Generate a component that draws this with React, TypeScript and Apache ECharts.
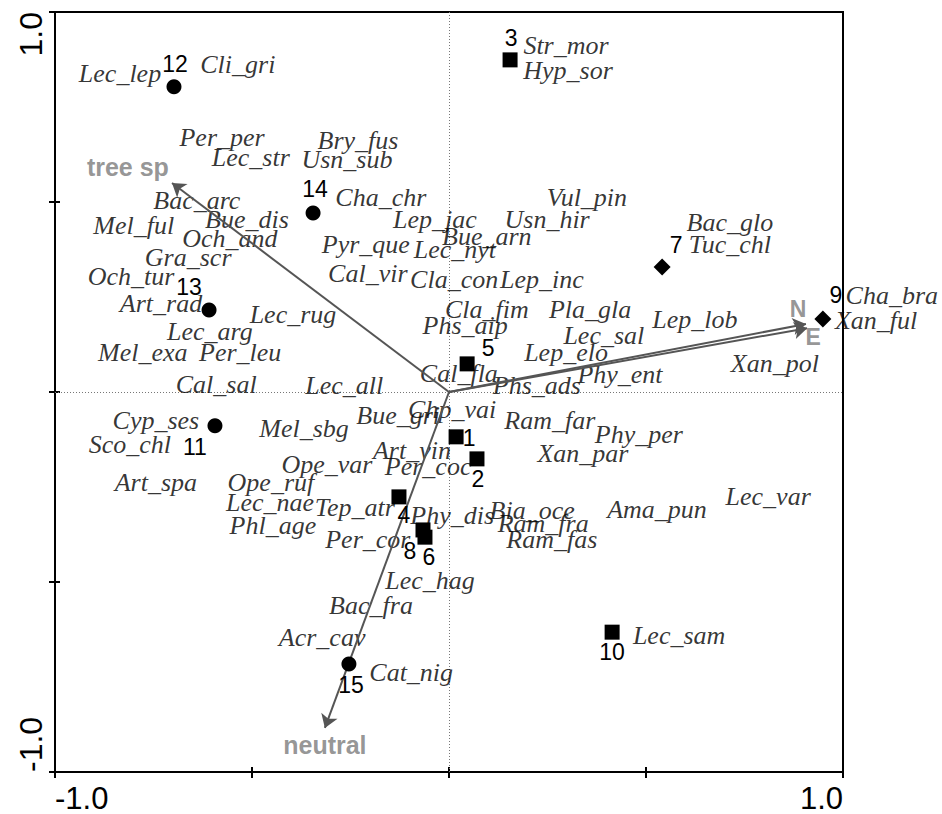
import React, { useEffect, useRef } from "react";
import * as echarts from "echarts";

// ---- axis ----
const axisMin = -1;
const axisMax = 1;
const axisInterval = 0.5;
const axisEndLabels: Record<string, string> = { "-1": "-1.0", "1": "1.0" };

// ---- species scores (text only) ----
const speciesNames = [
  "Lec_lep", "Cli_gri", "Per_per", "Lec_str", "Bry_fus", "Usn_sub", "Str_mor", "Hyp_sor",
  "Cha_chr", "Vul_pin", "Bac_glo", "Tuc_chl", "Bac_arc", "Mel_ful", "Bue_dis", "Och_and",
  "Gra_scr", "Och_tur", "Lep_jac", "Usn_hir", "Bue_arn", "Pyr_que", "Lec_nyt", "Cal_vir",
  "Cla_con", "Lep_inc", "Cla_fim", "Pla_gla", "Phs_aip", "Lep_lob", "Lec_sal", "Lep_elo",
  "Xan_pol", "Phy_ent", "Cal_fla", "Phs_ads", "Lec_all", "Lec_rug", "Art_rad", "Lec_arg",
  "Mel_exa", "Per_leu", "Cal_sal", "Cha_bra", "Xan_ful", "Cyp_ses", "Sco_chl", "Mel_sbg",
  "Bue_gri", "Chp_vai", "Ram_far", "Phy_per", "Art_vin", "Xan_par", "Ope_var", "Per_coc",
  "Art_spa", "Ope_ruf", "Lec_var", "Ama_pun", "Lec_nae", "Tep_atr", "Phy_dis", "Bia_oce",
  "Ram_fra", "Phl_age", "Per_cor", "Ram_fas", "Lec_hag", "Bac_fra", "Acr_cav", "Cat_nig",
  "Lec_sam",
];
const speciesX = [
  -0.835, -0.536, -0.576, -0.503, -0.231, -0.259, 0.297, 0.302,
  -0.173, 0.35, 0.713, 0.713, -0.64, -0.8, -0.513, -0.556,
  -0.662, -0.807, -0.036, 0.249, 0.096, -0.211, 0.015, -0.206,
  0.013, 0.236, 0.096, 0.358, 0.041, 0.624, 0.393, 0.297,
  0.827, 0.434, 0.025, 0.223, -0.266, -0.396, -0.731, -0.607,
  -0.777, -0.53, -0.591, 1.124, 1.084, -0.744, -0.81, -0.368,
  -0.129, 0.008, 0.256, 0.482, -0.094, 0.34, -0.31, -0.053,
  -0.744, -0.452, 0.81, 0.528, -0.454, -0.239, 0.008, 0.211,
  0.239, -0.447, -0.206, 0.261, -0.048, -0.198, -0.322, -0.096,
  0.584,
];
const speciesY = [
  0.838, 0.862, 0.671, 0.618, 0.663, 0.611, 0.913, 0.845,
  0.511, 0.511, 0.447, 0.389, 0.505, 0.439, 0.453, 0.405,
  0.353, 0.303, 0.453, 0.453, 0.408, 0.387, 0.374, 0.313,
  0.295, 0.297, 0.218, 0.216, 0.176, 0.192, 0.15, 0.105,
  0.076, 0.045, 0.05, 0.016, 0.018, 0.203, 0.232, 0.158,
  0.105, 0.105, 0.021, 0.255, 0.187, -0.076, -0.139, -0.095,
  -0.063, -0.045, -0.074, -0.113, -0.155, -0.163, -0.192, -0.197,
  -0.237, -0.237, -0.276, -0.308, -0.292, -0.305, -0.324, -0.313,
  -0.347, -0.35, -0.387, -0.387, -0.495, -0.561, -0.645, -0.739,
  -0.642,
];

// ---- sites (samples) ----
const squareSiteIds = ["1", "2", "3", "4", "5", "6", "8", "10"];
const squareSiteX = [0.018, 0.071, 0.155, -0.127, 0.046, -0.061, -0.066, 0.414];
const squareSiteY = [-0.118, -0.176, 0.874, -0.276, 0.074, -0.382, -0.363, -0.632];

const circleSiteIds = ["11", "12", "13", "14", "15"];
const circleSiteX = [-0.594, -0.698, -0.609, -0.345, -0.254];
const circleSiteY = [-0.089, 0.803, 0.216, 0.471, -0.716];

const diamondSiteIds = ["7", "9"];
const diamondSiteX = [0.541, 0.949];
const diamondSiteY = [0.329, 0.192];

// ---- environmental vectors ----
const envNames = ["tree sp", "neutral", "N", "E"];
const envX = [-0.703, -0.315, 0.906, 0.909];
const envY = [0.55, -0.884, 0.179, 0.168];
const envLabelX = [-0.815, -0.315, 0.886, 0.924];
const envLabelY = [0.592, -0.929, 0.218, 0.145];

// layout: pixel offsets of site number labels from their symbols
const siteLabelOffset: Record<string, [number, number]> = {
  "1": [13, 1], "2": [1, 20], "3": [1, -22], "4": [5, 18], "5": [21, -16],
  "6": [4, 20], "8": [-13, 21], "10": [0, 20], "11": [-20, 21], "12": [1, -23],
  "13": [-20, -23], "14": [2, -24], "15": [2, 21], "7": [14, -22], "9": [13, -24],
};

const SERIF = "'Liberation Serif', 'Times New Roman', Times, serif";
const SANS = "'Liberation Sans', Arial, Helvetica, sans-serif";

function siteSeries(ids: string[], xs: number[], ys: number[], symbol: string, size: number) {
  return {
    type: "scatter",
    z: 5,
    clip: false,
    symbol,
    symbolSize: size,
    itemStyle: { color: "#000", opacity: 1 },
    emphasis: { disabled: true },
    label: {
      show: true,
      position: "inside",
      formatter: (p: any) => p.name,
      fontFamily: SANS,
      fontSize: 23,
      color: "#000",
    },
    data: ids.map((id, i) => ({
      name: id,
      value: [xs[i], ys[i]],
      label: { offset: siteLabelOffset[id] },
    })),
  };
}

export default function App() {
  const ref = useRef<HTMLDivElement>(null);
  useEffect(() => {
    if (!ref.current) return;
    const chart = echarts.init(ref.current, null, { renderer: "svg" });
    const baseAxis = {
      type: "value",
      min: axisMin,
      max: axisMax,
      interval: axisInterval,
      splitLine: { show: false },
    };
    const option: any = {
      animation: false,
      backgroundColor: "#fff",
      grid: {
        left: 55,
        right: 99,
        top: 12,
        bottom: 42,
        show: true,
        borderColor: "#000",
        borderWidth: 2,
      },
      xAxis: [
        {
          ...baseAxis,
          position: "bottom",
          axisLine: { show: true, onZero: false, lineStyle: { color: "#000", width: 2 } },
          axisTick: { show: true, length: 6, lineStyle: { color: "#000", width: 2 } },
          axisLabel: {
            show: true,
            margin: 11,
            fontFamily: SANS,
            fontSize: 31,
            color: "#000",
            showMinLabel: true,
            showMaxLabel: true,
            alignMinLabel: "left",
            alignMaxLabel: "right",
            formatter: (v: number) => axisEndLabels[String(v)] ?? "",
          },
        },
        {
          ...baseAxis,
          position: "bottom",
          axisLine: { show: false, onZero: false },
          axisTick: { show: true, inside: true, length: 5, lineStyle: { color: "#000", width: 2 } },
          axisLabel: { show: false },
        },
      ],
      yAxis: [
        {
          ...baseAxis,
          position: "left",
          axisLine: { show: true, onZero: false, lineStyle: { color: "#000", width: 2 } },
          axisTick: { show: true, length: 6, lineStyle: { color: "#000", width: 2 } },
          axisLabel: {
            show: true,
            rotate: 90,
            margin: 8,
            fontFamily: SANS,
            fontSize: 32,
            color: "#000",
            showMinLabel: true,
            showMaxLabel: true,
            alignMinLabel: "left",
            alignMaxLabel: "right",
            formatter: (v: number) => axisEndLabels[String(v)] ?? "",
          },
        },
        {
          ...baseAxis,
          position: "left",
          axisLine: { show: false, onZero: false },
          axisTick: { show: true, inside: true, length: 5, lineStyle: { color: "#000", width: 2 } },
          axisLabel: { show: false },
        },
      ],
      series: [
        {
          type: "scatter",
          z: 3,
          clip: false,
          symbolSize: 1,
          itemStyle: { color: "rgba(0,0,0,0)" },
          emphasis: { disabled: true },
          label: {
            show: true,
            position: "inside",
            formatter: (p: any) => p.name,
            fontFamily: SERIF,
            fontStyle: "italic",
            fontSize: 26,
            color: "#000",
          },
          data: speciesNames.map((n, i) => ({ name: n, value: [speciesX[i], speciesY[i]] })),
          markLine: {
            silent: true,
            symbol: ["none", "none"],
            label: { show: false },
            lineStyle: { type: [1, 2], color: "#777", width: 1 },
            emphasis: { disabled: true },
            data: [{ xAxis: 0 }, { yAxis: 0 }],
            z: 1,
          },
        },
        {
          type: "lines",
          coordinateSystem: "cartesian2d",
          z: 4,
          symbol: ["none", "arrow"],
          symbolSize: 13,
          lineStyle: { color: "#555", width: 2, opacity: 1 },
          emphasis: { disabled: true },
          data: envNames.map((n, i) => ({
            name: n,
            coords: [
              [0, 0],
              [envX[i], envY[i]],
            ],
          })),
        },
        siteSeries(squareSiteIds, squareSiteX, squareSiteY, "rect", 15),
        siteSeries(circleSiteIds, circleSiteX, circleSiteY, "circle", 15),
        siteSeries(diamondSiteIds, diamondSiteX, diamondSiteY, "diamond", 17),
        {
          type: "scatter",
          z: 6,
          clip: false,
          symbolSize: 1,
          itemStyle: { color: "rgba(0,0,0,0)" },
          emphasis: { disabled: true },
          label: {
            show: true,
            position: "inside",
            formatter: (p: any) => p.name,
            fontFamily: SANS,
            fontWeight: "bold",
            fontSize: 25,
            color: "#7a7a7a",
          },
          data: envNames.map((n, i) => ({
            name: n,
            value: [envLabelX[i], envLabelY[i]],
            label: n.length === 1 ? { fontSize: 23 } : undefined,
          })),
        },
      ],
    };
    chart.setOption(option);
    return () => chart.dispose();
  }, []);
  return (
    <div
      ref={ref}
      style={{ position: "absolute", left: 0, top: 0, width: 942, height: 814, background: "#fff" }}
    />
  );
}
